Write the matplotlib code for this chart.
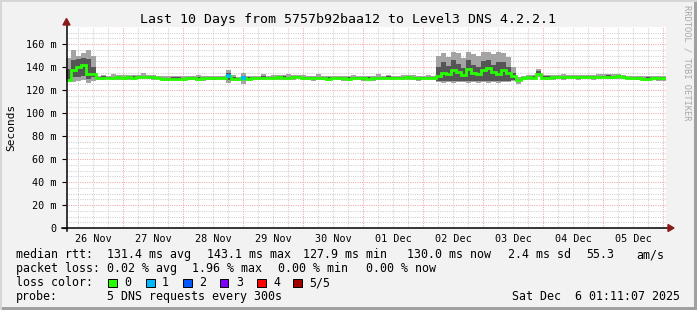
import numpy as np
import matplotlib
matplotlib.use("Agg")
import matplotlib.pyplot as plt
from matplotlib.lines import Line2D
from matplotlib.patches import Polygon, Rectangle

# ---------------- data (2-hour bins starting Nov 26 01:11) ----------------
start_hour = 1.18          # hours after Nov 26 00:00
bin_hours = 2.0

median = [
    129, 137, 140, 142, 134, 134,
    130.5, 130.8, 130.6, 130.5, 130.9, 130.7, 131.0, 130.8, 131.2, 131.5, 131.3, 131.0,
    130.2, 129.8, 129.6, 129.9, 130.0, 129.8, 130.1, 130.3, 130.0, 130.2, 130.4, 130.1, 130.6, 130.3,
    132.0, 130.0, 129.5, 130.5, 130.0,
    130.3, 130.6, 130.8, 130.5, 130.7, 131.0, 130.8, 130.6, 130.9, 131.1, 130.7, 130.4,
    130.2, 130.5, 130.3, 130.0, 130.4, 130.6, 130.2, 130.0, 130.3, 130.5, 130.1, 129.9,
    130.2, 130.6, 130.4, 130.8, 130.5, 130.2, 130.7, 130.9, 130.4, 130.1, 130.5, 130.7, 130.4,
    132, 135, 134, 137, 136, 133, 138, 135, 134, 137, 139, 136, 134, 137, 135, 132,
    128.5, 130.5, 131.0, 130.8, 133.5, 130.8,
    130.8, 131.0, 131.2, 130.9, 131.1, 131.3, 131.0, 131.2, 131.4, 131.1, 131.3, 131.5,
    131.7, 131.6, 131.9, 131.2, 130.6, 130.4, 130.1, 129.6, 130.0, 130.3, 130.1, 130.2,
]

# outer smoke: distance above / below the median (ms)
outer_up = [
    19, 18, 10, 10, 21, 16,
    2, 2, 2, 3, 2, 2, 2, 2, 2, 3, 2, 2, 2, 2, 3, 2, 2, 2, 2, 2, 3, 2, 2, 2, 2, 2,
    5, 3, 2, 4, 2,
    2, 2, 3, 2, 2, 2, 2, 3, 2, 2, 2, 2, 2, 3, 2, 2, 2, 2, 2, 2, 3, 2, 2, 2, 2, 3,
    2, 2, 2, 2, 2, 2, 3, 2, 2, 2, 2,
    18, 17, 15, 16, 16, 15, 15, 16, 16, 16, 14, 15, 19, 15, 14, 8,
    3, 2, 2, 2, 5, 2,
    2, 2, 2, 3, 2, 2, 2, 2, 2, 2, 3, 2, 2, 2, 2, 2, 2, 2, 2, 3, 2, 2, 2, 2,
]
outer_dn = [
    1, 10, 12, 13, 8, 6,
    2, 2, 1, 2, 2, 2, 2, 1, 2, 2, 2, 2, 1, 2, 2, 2, 2, 2, 1, 2, 2, 2, 2, 1, 2, 2,
    6, 2, 2, 5, 2,
    2, 2, 2, 1, 2, 2, 2, 2, 2, 1, 2, 2, 2, 2, 2, 2, 1, 2, 2, 2, 2, 2, 2, 1, 2, 2,
    2, 2, 2, 1, 2, 2, 2, 2, 2, 2, 2,
    5, 9, 7, 11, 9, 6, 12, 8, 8, 10, 13, 9, 8, 10, 8, 4,
    3, 2, 2, 2, 2, 2,
    2, 2, 2, 2, 1, 2, 2, 2, 2, 2, 2, 1, 2, 2, 2, 2, 2, 2, 1, 2, 2, 2, 2, 2,
]
# inner (darker) smoke
inner_up = [
    9, 9, 7, 6, 13, 6,
    1, 1, 1, 1, 1, 1, 1, 1, 1, 1, 1, 1, 1, 1, 1, 1, 1, 1, 1, 1, 1, 1, 1, 1, 1, 1,
    3, 1, 1, 2, 1,
    1, 1, 1, 1, 1, 1, 1, 1, 1, 1, 1, 1, 1, 1, 1, 1, 1, 1, 1, 1, 1, 1, 1, 1, 1, 1,
    1, 1, 1, 1, 1, 1, 1, 1, 1, 1, 1,
    8, 9, 7, 9, 7, 6, 8, 7, 6, 8, 7, 6, 10, 7, 5, 3,
    1, 1, 1, 1, 3, 1,
    1, 1, 1, 1, 1, 1, 1, 1, 1, 1, 1, 1, 1, 1, 1, 1, 1, 1, 1, 1, 1, 1, 1, 1,
]
inner_dn = [
    1, 6, 9, 10, 4, 3,
    1, 1, 1, 1, 1, 1, 1, 1, 1, 1, 1, 1, 1, 1, 1, 1, 1, 1, 1, 1, 1, 1, 1, 1, 1, 1,
    3, 1, 1, 2, 1,
    1, 1, 1, 1, 1, 1, 1, 1, 1, 1, 1, 1, 1, 1, 1, 1, 1, 1, 1, 1, 1, 1, 1, 1, 1, 1,
    1, 1, 1, 1, 1, 1, 1, 1, 1, 1, 1,
    4, 7, 6, 9, 8, 5, 10, 7, 6, 9, 11, 8, 6, 9, 7, 3,
    1, 1, 1, 1, 1, 1,
    1, 1, 1, 1, 1, 1, 1, 1, 1, 1, 1, 1, 1, 1, 1, 1, 1, 1, 1, 1, 1, 1, 1, 1,
]
# lost pings (of 5) per bin
loss = [0] * 32 + [1, 0, 0, 1] + [0] * 84

day_labels = ["26 Nov", "27 Nov", "28 Nov", "29 Nov", "30 Nov",
              "01 Dec", "02 Dec", "03 Dec", "04 Dec", "05 Dec"]
y_ticks = [0, 20, 40, 60, 80, 100, 120, 140, 160]
y_tick_labels = ["0", "20 m", "40 m", "60 m", "80 m", "100 m", "120 m", "140 m", "160 m"]

loss_names = ["0", "1", "2", "3", "4", "5/5"]
loss_colors = ["#26ff00", "#00b8ff", "#0059ff", "#7e00ff", "#ff0000", "#a10000"]

title = "Last 10 Days from 5757b92baa12 to Level3 DNS 4.2.2.1"
stats_rtt = ["median rtt:", "131.4 ms avg", "143.1 ms max", "127.9 ms min",
             "130.0 ms now", "2.4 ms sd", "55.3", "am/s"]
stats_loss = ["packet loss:", "0.02 % avg", "1.96 % max", "0.00 % min", "0.00 % now"]
probe_text = ["probe:", "5 DNS requests every 300s"]
stamp = "Sat Dec  6 01:11:07 2025"

# ---------------- figure ----------------
W, H = 697, 310
MONO = "DejaVu Sans Mono"
plt.rcParams["font.family"] = MONO

fig = plt.figure(figsize=(W / 100, H / 100), dpi=100)
fig.patch.set_facecolor("#f2f2f2")

def fx(px):
    return px / W

def fy(py):
    return 1 - py / H

# frame (3D look)
fig.add_artist(Rectangle((fx(W - 3), 0), 3 / W, 1, transform=fig.transFigure,
                         color="#a0a0a0", lw=0, zorder=0))
fig.add_artist(Rectangle((0, 0), 1, 3 / H, transform=fig.transFigure,
                         color="#a0a0a0", lw=0, zorder=0))
fig.add_artist(Rectangle((0, 0), 2 / W, 1, transform=fig.transFigure,
                         color="#d6d6d6", lw=0, zorder=0))
fig.add_artist(Rectangle((0, fy(2)), 1, 2 / H, transform=fig.transFigure,
                         color="#d6d6d6", lw=0, zorder=0))

ymax = 174.8
ax = fig.add_axes([fx(66), fy(228), 600 / W, 201 / H])
ax.set_facecolor("white")
n = len(median)
edges = start_hour + bin_hours * np.arange(n + 1)
ax.set_xlim(edges[0], edges[-1])
ax.set_ylim(0, ymax)
for s in ax.spines.values():
    s.set_visible(False)

# grid
dot = (0, (1, 1.2))
for h in np.arange(6, 246, 6):
    if h < edges[0] or h > edges[-1]:
        continue
    if h % 24 == 0:
        ax.axvline(h, color="#f0a8a8", lw=0.75, ls=dot, zorder=1)
    else:
        ax.axvline(h, color="#cfcfcf", lw=0.75, ls=dot, zorder=1)
for v in np.arange(5, 175, 5):
    if v % 20 == 0:
        ax.axhline(v, color="#f0a8a8", lw=0.75, ls=dot, zorder=1)
    else:
        ax.axhline(v, color="#cfcfcf", lw=0.75, ls=dot, zorder=1)

med = np.array(median, dtype=float)
o_hi = med + np.array(outer_up)
o_lo = med - np.array(outer_dn)
i_hi = med + np.array(inner_up)
i_lo = med - np.array(inner_dn)

ax.stairs(o_hi, edges, baseline=o_lo, fill=True, color="#a4a4a4", zorder=2)
ax.stairs(i_hi, edges, baseline=i_lo, fill=True, color="#555555", zorder=3)
ax.stairs(med, edges, baseline=None, color=loss_colors[0], lw=2.0, zorder=4)
for i in range(n):
    if loss[i] > 0:
        ax.hlines(med[i], edges[i], edges[i + 1], color=loss_colors[loss[i]],
                  lw=2.6, zorder=5)

# ticks
ax.set_yticks(y_ticks)
ax.set_yticklabels(y_tick_labels, fontsize=7.3, family=MONO)
ax.tick_params(axis="y", length=3, width=0.8, color="#000000", pad=4)
ax.set_xticks([12 + 24 * k for k in range(len(day_labels))])
ax.set_xticklabels(day_labels, fontsize=7.3, family=MONO)
ax.tick_params(axis="x", length=0, pad=4)

# axes lines + arrows
axis_col = "#000000"
arrow_col = "#8c1a1a"
fig.add_artist(Line2D([fx(62), fx(668)], [fy(228), fy(228)], color=axis_col,
                      lw=1.1, transform=fig.transFigure, zorder=6))
fig.add_artist(Line2D([fx(66.5), fx(66.5)], [fy(231), fy(24)], color=axis_col,
                      lw=1.1, transform=fig.transFigure, zorder=6))
fig.add_artist(Polygon([[fx(668), fy(224.5)], [fx(668), fy(231.5)], [fx(674), fy(228)]],
                       closed=True, color=arrow_col, transform=fig.transFigure, zorder=7))
fig.add_artist(Polygon([[fx(63), fy(25)], [fx(70), fy(25)], [fx(66.5), fy(18.5)]],
                       closed=True, color=arrow_col, transform=fig.transFigure, zorder=7))

# texts
fig.text(fx(348), fy(19), title, ha="center", va="center", fontsize=9.5, family=MONO)
fig.text(fx(11), fy(127), "Seconds", ha="center", va="center", rotation=90,
         fontsize=8, family=MONO)
fig.text(fx(687), fy(5), "RRDTOOL / TOBI OETIKER", ha="center", va="top",
         rotation=270, fontsize=6.3, family=MONO, color="#a8a8a8")

LFS = 8.4
row1, row2, row3, row4 = 254.5, 268.5, 282.5, 296.5
for txt, x in zip(stats_rtt, [16, 107, 207, 303, 407, 508, 586, 636]):
    fig.text(fx(x), fy(row1), txt, ha="left", va="center", fontsize=LFS, family=MONO)
for txt, x in zip(stats_loss, [16, 107, 192, 278, 366]):
    fig.text(fx(x), fy(row2), txt, ha="left", va="center", fontsize=LFS, family=MONO)
fig.text(fx(16), fy(row3), "loss color:", ha="left", va="center", fontsize=LFS, family=MONO)
for name, col, x in zip(loss_names, loss_colors, [108, 146, 183, 220, 257, 293]):
    fig.add_artist(Rectangle((fx(x), fy(row3 + 4.5)), 8.5 / W, 8.5 / H,
                             transform=fig.transFigure, facecolor=col,
                             edgecolor="#000000", lw=0.7, zorder=6))
    fig.text(fx(x + 16), fy(row3), name, ha="left", va="center", fontsize=LFS, family=MONO)
fig.text(fx(16), fy(row4), probe_text[0], ha="left", va="center", fontsize=LFS, family=MONO)
fig.text(fx(107), fy(row4), probe_text[1], ha="left", va="center", fontsize=LFS, family=MONO)
fig.text(fx(680), fy(row4), stamp, ha="right", va="center", fontsize=LFS, family=MONO)

fig.savefig("out.png", dpi=100, facecolor=fig.get_facecolor())
